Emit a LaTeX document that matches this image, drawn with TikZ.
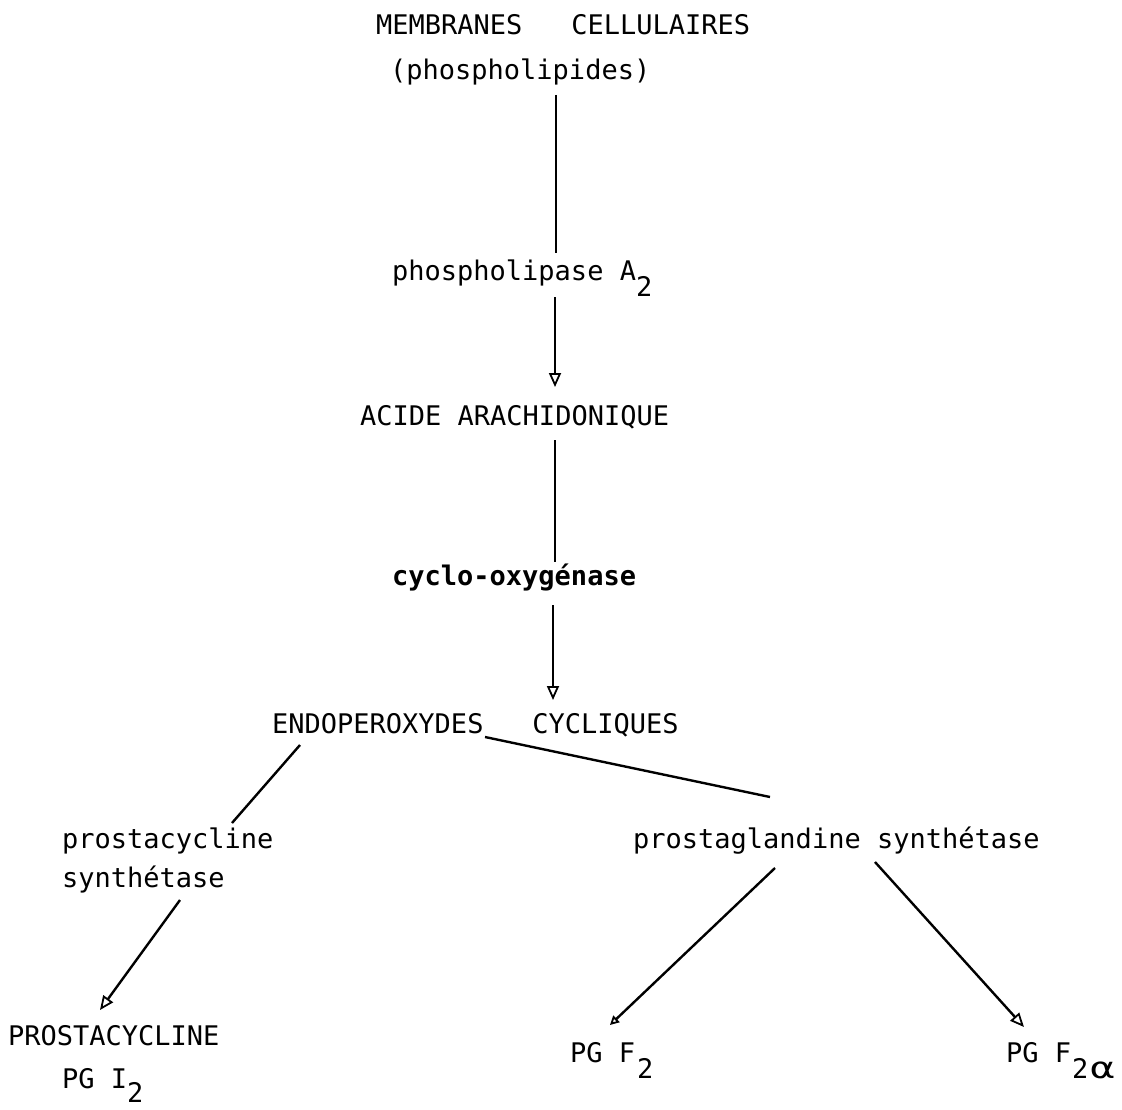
\documentclass[tikz,border=0pt]{standalone}
\usepackage{fontspec}
\setmonofont{DejaVu Sans Mono}
\usetikzlibrary{arrows.meta}
\begin{document}
\begin{tikzpicture}[x=1pt,y=-1pt,
  lbl/.style={anchor=base west,inner sep=0pt,font=\ttfamily\fontsize{27}{30}\selectfont},
  conn/.style={line width=2.4pt},
  arr/.style={conn,-{Triangle[open,length=14pt,width=12pt,line width=1.8pt]}},
  arrs/.style={conn,-{Triangle[open,length=9pt,width=9pt,line width=1.8pt]}}]
\useasboundingbox (0,0) rectangle (1122,1110);
\newcommand{\subtw}[3][16pt]{\hspace{#2}\raisebox{-#1}{#3}}
\node[lbl] (mem) at (376,35) {MEMBRANES~~~CELLULAIRES};
\node[lbl] (phl) at (390,80) {(phospholipides)};
\node[lbl] (pla) at (392,280) {phospholipase A\subtw{0pt}{2}};
\node[lbl] (aa) at (360,425) {ACIDE ARACHIDONIQUE};
\node[lbl,font=\ttfamily\bfseries\fontsize{27}{30}\selectfont] (cox) at (392,585) {cyclo-oxygénase};
\node[lbl] (endo) at (272,733) {ENDOPEROXYDES~~~CYCLIQUES};
\node[lbl] (pcs) at (62,848) {prostacycline};
\node[lbl] (pcs2) at (62,887) {synthétase};
\node[lbl] (pgs) at (633,848) {prostaglandine synthétase};
\node[lbl] (pc) at (8,1045) {PROSTACYCLINE};
\node[lbl] (pgi) at (62,1088) {PG I\subtw[14pt]{0pt}{2}};
\node[lbl] (pgf) at (570,1062) {PG F\subtw{2pt}{2}};
\node[lbl] (pgfa) at (1006,1062) {PG F\subtw{1pt}{2\hspace{2pt}\scalebox{1.5}[1.1]{α}}};
\coordinate (a1) at (556,95); \coordinate (b1) at (556,253);
\coordinate (a2) at (555,297); \coordinate (b2) at (555,387);
\coordinate (a3) at (555,440); \coordinate (b3) at (555,562);
\coordinate (a4) at (553,605); \coordinate (b4) at (553,700);
\coordinate (a5) at (485,737); \coordinate (b5) at (770,797);
\coordinate (a6) at (300,745); \coordinate (b6) at (232,823);
\coordinate (a7) at (180,900); \coordinate (b7) at (100,1010);
\coordinate (a8) at (775,868); \coordinate (b8) at (610,1025);
\coordinate (a9) at (875,862); \coordinate (b9) at (1024,1027);
\draw[conn] (a1) -- (b1);
\draw[arr] (a2) -- (b2);
\draw[conn] (a3) -- (b3);
\draw[arr] (a4) -- (b4);
\draw[conn] (a5) -- (b5);
\draw[conn] (a6) -- (b6);
\draw[arr] (a7) -- (b7);
\draw[arrs] (a8) -- (b8);
\draw[arr] (a9) -- (b9);
\end{tikzpicture}
\end{document}
